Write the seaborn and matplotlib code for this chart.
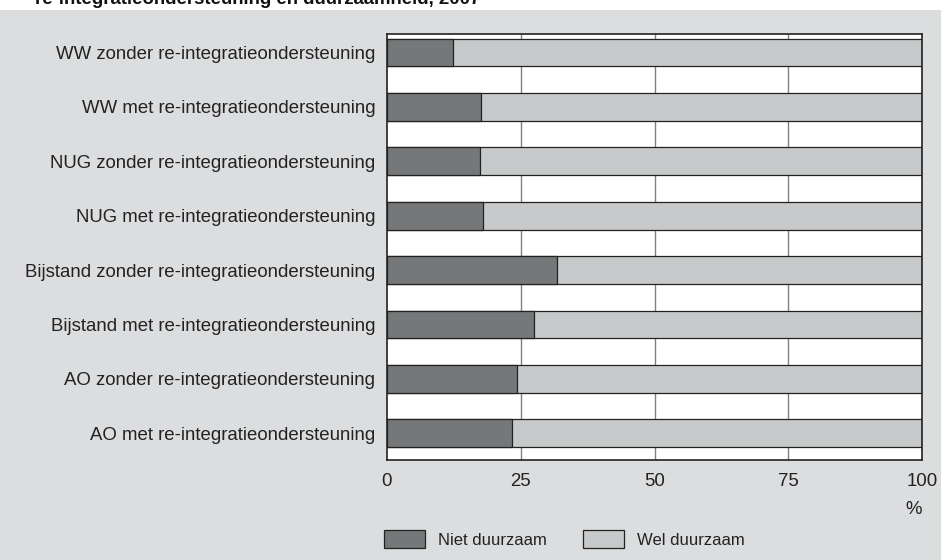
import matplotlib
matplotlib.use('Agg')
import matplotlib.pyplot as plt
import seaborn as sns
import pandas as pd
from matplotlib.patches import Patch, Rectangle

# data
categories = [
    'WW zonder re-integratieondersteuning',
    'WW met re-integratieondersteuning',
    'NUG zonder re-integratieondersteuning',
    'NUG met re-integratieondersteuning',
    'Bijstand zonder re-integratieondersteuning',
    'Bijstand met re-integratieondersteuning',
    'AO zonder re-integratieondersteuning',
    'AO met re-integratieondersteuning',
]
niet_duurzaam = [12.3, 17.5, 17.3, 17.9, 31.7, 27.5, 24.3, 23.4]
wel_duurzaam = [87.7, 82.5, 82.7, 82.1, 68.3, 72.5, 75.7, 76.6]
x_ticks = [0, 25, 50, 75, 100]

DARK = '#767778'
LIGHT = '#c8c9ca'
BG = '#dcdddf'
FS = 13.4

sns.set_style('white')
plt.rcParams['font.family'] = ['Liberation Sans', 'DejaVu Sans']

df = pd.DataFrame({
    'categorie': categories,
    'niet': niet_duurzaam,
    'wel': wel_duurzaam,
})
df['totaal'] = df['niet'] + df['wel']

fig = plt.figure(figsize=(9.41, 5.6), dpi=100, facecolor=BG)

# white strip above the grey panel, where the title sits
fig.patches.append(Rectangle((0, 1 - 10 / 560), 1, 10 / 560, transform=fig.transFigure,
                             facecolor='white', edgecolor='none', zorder=0))

ax = fig.add_axes([387 / 941, 1 - 460 / 560, (922 - 387) / 941, (460 - 34) / 560])
ax.set_facecolor('white')

# gridlines behind the bars
for t in x_ticks[1:-1]:
    ax.axvline(t, color='#808080', lw=1.0, zorder=0)

sns.barplot(data=df, x='totaal', y='categorie', orient='h', color=LIGHT,
            width=0.51, edgecolor='#222222', linewidth=0.9, saturation=1,
            ax=ax, zorder=2)
sns.barplot(data=df, x='niet', y='categorie', orient='h', color=DARK,
            width=0.51, edgecolor='#222222', linewidth=0.9, saturation=1,
            ax=ax, zorder=3)

ax.set_xlim(0, 100)
ax.set_ylim(7.49, -0.34)
ax.set_xticks(x_ticks)
ax.set_xticklabels([str(t) for t in x_ticks])
ax.set_xlabel('')
ax.set_ylabel('')
ax.tick_params(axis='both', length=0, labelsize=FS, colors='#222222')
ax.tick_params(axis='x', pad=9)
ax.tick_params(axis='y', pad=8.5)
for s in ax.spines.values():
    s.set_visible(True)
    s.set_color('#222222')
    s.set_linewidth(1.2)

fig.text(914 / 941, 1 - 509 / 560, '%', ha='center', va='center',
         fontsize=FS, color='#222222')

# partially cut-off title at the top
fig.text(35 / 941, 1 - 3.5 / 560, 're-integratieondersteuning en duurzaamheid, 2007',
         ha='left', va='baseline', fontsize=13.4, fontweight='bold', color='#111111')

handles = [Patch(facecolor=DARK, edgecolor='#222222', lw=0.9),
           Patch(facecolor=LIGHT, edgecolor='#222222', lw=0.9)]
fig.legend(handles, ['Niet duurzaam', 'Wel duurzaam'], loc='center left',
           bbox_to_anchor=(369 / 941, 1 - 539 / 560), ncol=2, frameon=False,
           fontsize=12, handlelength=2.45, handleheight=1.2, columnspacing=2.2,
           handletextpad=0.78, labelcolor='#222222')

fig.savefig('out.png', dpi=100, facecolor=BG)
